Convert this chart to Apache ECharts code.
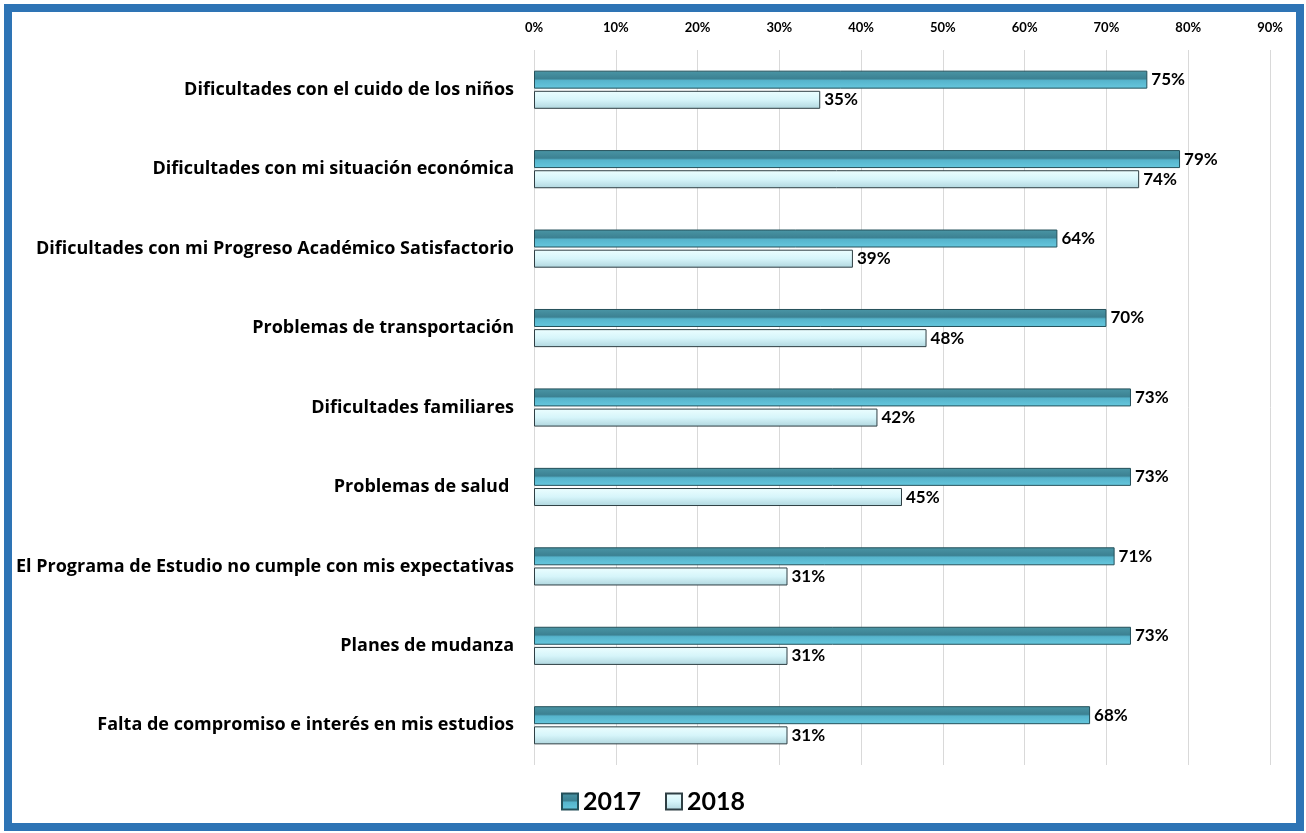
<!DOCTYPE html>
<html>
<head>
<meta charset="utf-8">
<script src="https://cdn.jsdelivr.net/npm/echarts@6/dist/echarts.min.js"></script>
<style>
  html, body { margin: 0; padding: 0; background: #fff; }
  .frame {
    position: absolute;
    left: 4px; top: 4px;
    width: 1300px; height: 827px;
    box-sizing: border-box;
    border: 8px solid #2e74b5;
  }
  #chart { position: absolute; left: 0; top: 0; width: 1306px; height: 833px; }
</style>
</head>
<body>
<div class="frame"></div>
<div id="chart"></div>
<script>
// categorias (de arriba hacia abajo)
const categories = [
  'Dificultades con el cuido de los niños',
  'Dificultades con mi situación económica',
  'Dificultades con mi Progreso Académico Satisfactorio',
  'Problemas de transportación',
  'Dificultades familiares',
  'Problemas de salud ',
  'El Programa de Estudio no cumple con mis expectativas',
  'Planes de mudanza',
  'Falta de compromiso e interés en mis estudios'
]
const values2017 = [75, 79, 64, 70, 73, 73, 71, 73, 68]
const values2018 = [35, 74, 39, 48, 42, 45, 31, 31, 31]
const seriesNames = ['2017', '2018']

const font = 'Lato, "Open Sans", sans-serif'
const wideFont = '"Open Sans", Lato, sans-serif'

const chart = echarts.init(document.getElementById('chart'))

const labelStyle = {
  show: true,
  position: 'right',
  distance: 4,
  formatter: '{c}%',
  color: '#000',
  fontWeight: 'bold',
  fontSize: 17,
  fontFamily: font
}

chart.setOption({
  animation: false,
  grid: { left: 534, right: 36, top: 50, bottom: 68 },
  legend: {
    bottom: 14,
    left: 'center',
    itemWidth: 16,
    itemHeight: 16,
    itemGap: 24,
    icon: 'rect',
    textStyle: { fontSize: 25, fontWeight: 'bold', color: '#000', fontFamily: font },
    data: seriesNames
  },
  xAxis: {
    type: 'value',
    position: 'top',
    min: 0,
    max: 90,
    interval: 10,
    axisLine: { show: false },
    axisTick: { show: false },
    axisLabel: {
      formatter: '{value}%',
      color: '#000',
      fontWeight: 'bold',
      fontSize: 13,
      fontFamily: font,
      margin: 16
    },
    splitLine: { lineStyle: { color: '#d9d9d9', width: 1 } }
  },
  yAxis: {
    type: 'category',
    inverse: true,
    data: categories,
    axisLine: { show: false },
    axisTick: { show: false },
    axisLabel: {
      color: '#000',
      fontWeight: 'bold',
      fontSize: 18,
      fontFamily: wideFont,
      margin: 20
    }
  },
  series: [
    {
      name: seriesNames[0],
      type: 'bar',
      data: values2017,
      barWidth: 18,
      barGap: '12%',
      label: labelStyle,
      itemStyle: {
        borderColor: '#24505a',
        borderWidth: 1,
        color: new echarts.graphic.LinearGradient(0, 0, 0, 1, [
          { offset: 0, color: '#4a96a6' },
          { offset: 0.45, color: '#3c8192' },
          { offset: 0.55, color: '#56b4cc' },
          { offset: 1, color: '#66c8de' }
        ])
      }
    },
    {
      name: seriesNames[1],
      type: 'bar',
      data: values2018,
      barWidth: 18,
      label: labelStyle,
      itemStyle: {
        borderColor: '#2f3f44',
        borderWidth: 1,
        color: new echarts.graphic.LinearGradient(0, 0, 0, 1, [
          { offset: 0, color: '#ecfeff' },
          { offset: 0.5, color: '#d6f5fa' },
          { offset: 1, color: '#b0d6de' }
        ])
      }
    }
  ]
})

window.addEventListener('resize', () => chart.resize())
</script>
</body>
</html>
